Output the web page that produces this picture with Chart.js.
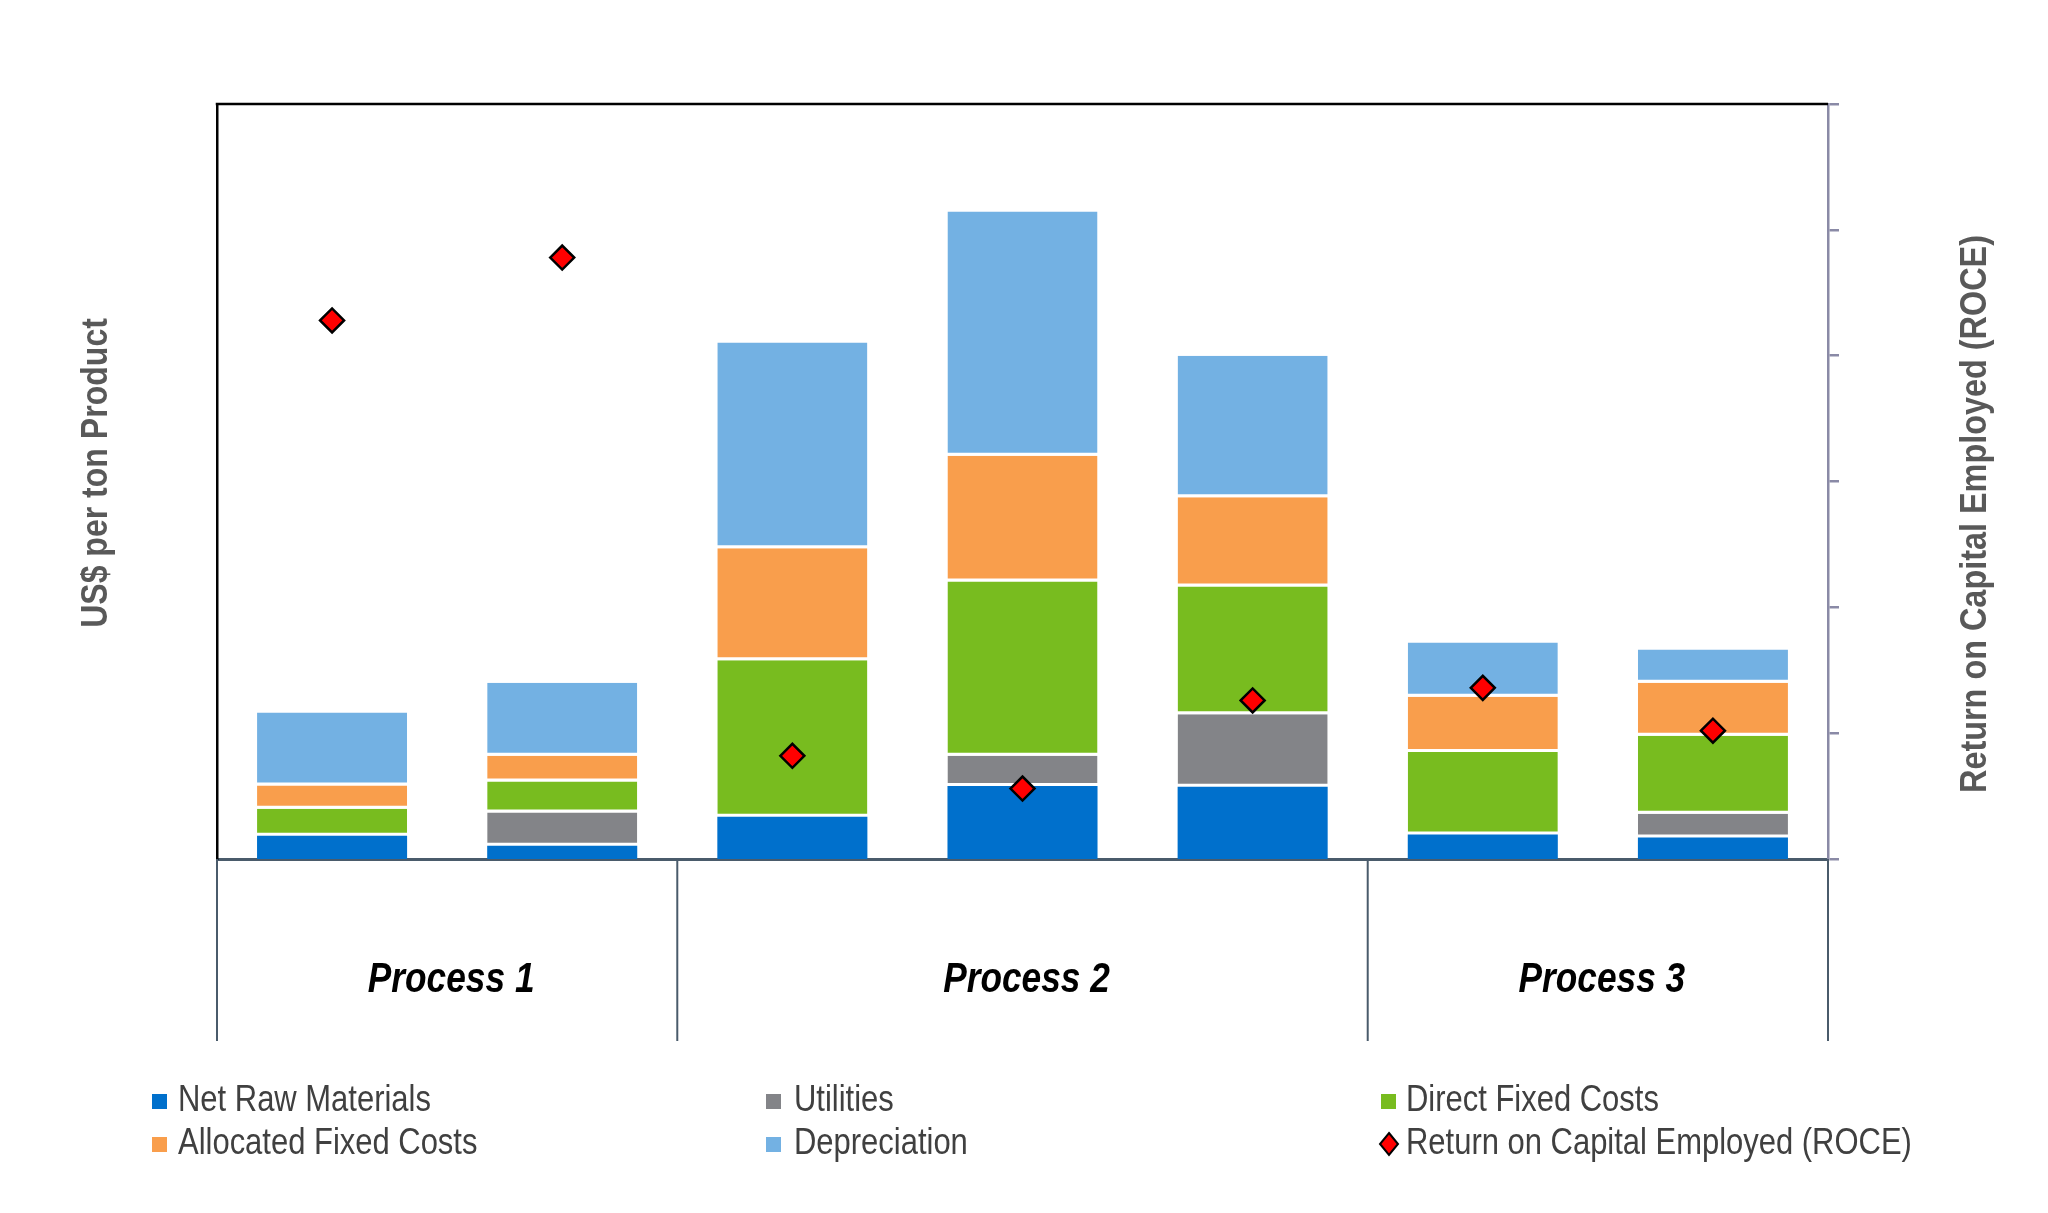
<!DOCTYPE html>
<html><head><meta charset="utf-8">
<script src="https://cdn.jsdelivr.net/npm/chart.js@4.4.1/dist/chart.umd.min.js"></script>
<style>html,body{margin:0;padding:0;background:#fff;}canvas{display:block;}</style>
</head><body>
<canvas id="c" width="2048" height="1213"></canvas>
<script>
const categories = ['Process 1','Process 1','Process 2','Process 2','Process 2','Process 3','Process 3'];
const groupLabels = ['Process 1','Process 2','Process 3'];
const groupSizes = [2, 3, 2];
const netRawMaterials     = [37, 21, 67, 116, 115, 39, 34];
const utilities           = [0, 53, 0, 48, 115, 0, 38];
const directFixedCosts    = [43, 49, 249, 277, 203, 131, 124];
const allocatedFixedCosts = [37, 41, 178, 200, 142, 88, 84];
const depreciation        = [116, 116, 327, 388, 225, 86, 53];
const roce                = [21.4, 23.9, 4.1, 2.8, 6.3, 6.8, 5.1];
const leftTitle = 'US$ per ton Product';
const rightTitle = 'Return on Capital Employed (ROCE)';

const FONT = "'Liberation Sans', Arial, sans-serif";

function barDs(label, data, color, first) {
  return { type: 'bar', label, data, backgroundColor: color, borderColor: '#ffffff',
    borderWidth: { top: 0, bottom: first ? 0 : 3, left: 0, right: 0 }, borderSkipped: false,
    barPercentage: 0.652, categoryPercentage: 1, yAxisID: 'y', order: 1 };
}

function condensedText(ctx, text, x, y, sx, rot) {
  ctx.save(); ctx.translate(x, y); if (rot) ctx.rotate(rot); ctx.scale(sx, 1); ctx.fillText(text, 0, 0); ctx.restore();
}

const decor = {
  id: 'decor',
  afterDraw(chart) {
    const ctx = chart.ctx, ca = chart.chartArea, xs = chart.scales.x;
    ctx.save();
    // top frame line
    ctx.strokeStyle = '#000'; ctx.lineWidth = 2.5;
    ctx.beginPath(); ctx.moveTo(ca.left - 1.25, ca.top); ctx.lineTo(ca.right, ca.top); ctx.stroke();
    // group dividers and labels
    let start = 0;
    const bounds = [xs.getPixelForValue(-0.5)];
    groupSizes.forEach(n => { start += n; bounds.push(xs.getPixelForValue(start - 0.5)); });
    ctx.strokeStyle = '#4a5b6b'; ctx.lineWidth = 2;
    bounds.forEach(b => { ctx.beginPath(); ctx.moveTo(b, ca.bottom); ctx.lineTo(b, 1041); ctx.stroke(); });
    ctx.fillStyle = '#000'; ctx.textAlign = 'center'; ctx.textBaseline = 'alphabetic';
    ctx.font = `italic bold 42px ${FONT}`;
    groupLabels.forEach((g, i) => {
      const cx = (bounds[i] + bounds[i + 1]) / 2 + 4;
      condensedText(ctx, g, cx, 992, 0.84, 0);
    });
    // axis titles
    ctx.font = `bold 36px ${FONT}`; ctx.fillStyle = '#595959'; ctx.textAlign = 'center'; ctx.textBaseline = 'middle';
    condensedText(ctx, leftTitle, 97, 473, 0.89, -Math.PI / 2);
    condensedText(ctx, rightTitle, 1976, 514, 0.9, -Math.PI / 2);
    // legend
    const colMarker = [152, 766, 1381], colText = [178, 794, 1406], rowY = [1101, 1144];
    ctx.font = `36px ${FONT}`; ctx.textAlign = 'left'; ctx.textBaseline = 'middle';
    chart.data.datasets.forEach((ds, i) => {
      const c = i % 3, r = Math.floor(i / 3);
      const mx = colMarker[c], y = rowY[r];
      if (ds.type === 'line') {
        ctx.beginPath();
        ctx.moveTo(mx + 8, y - 11); ctx.lineTo(mx + 17, y); ctx.lineTo(mx + 8, y + 11); ctx.lineTo(mx - 1, y); ctx.closePath();
        ctx.fillStyle = ds.pointBackgroundColor; ctx.fill();
        ctx.strokeStyle = ds.pointBorderColor; ctx.lineWidth = 2; ctx.stroke();
      } else {
        ctx.fillStyle = ds.backgroundColor; ctx.fillRect(mx, y - 7, 15, 15);
      }
      ctx.fillStyle = '#404040';
      condensedText(ctx, ds.label, colText[c], y, 0.86, 0);
    });
    ctx.restore();
  }
};

new Chart(document.getElementById('c'), {
  data: {
    labels: categories,
    datasets: [
      barDs('Net Raw Materials', netRawMaterials, '#0070cc', true),
      barDs('Utilities', utilities, '#838488'),
      barDs('Direct Fixed Costs', directFixedCosts, '#78bc1f'),
      barDs('Allocated Fixed Costs', allocatedFixedCosts, '#f99e4c'),
      barDs('Depreciation', depreciation, '#73b1e3'),
      { type: 'line', label: 'Return on Capital Employed (ROCE)', data: roce, yAxisID: 'y2',
        showLine: false, pointStyle: 'rectRot', pointRadius: 12, pointHoverRadius: 12,
        pointBackgroundColor: '#ff0000', pointBorderColor: '#000000', pointBorderWidth: 2.5, order: 0 }
    ]
  },
  options: {
    responsive: false, animation: false, devicePixelRatio: 1,
    layout: { padding: { top: 104, left: 0, right: 0, bottom: 0 } },
    plugins: { legend: { display: false }, tooltip: { enabled: false } },
    scales: {
      x: { stacked: true, grid: { display: false, drawTicks: false }, ticks: { display: false },
        border: { display: true, color: '#4a5b6b', width: 3 },
        afterFit(s) { s.height = 1213 - 859; } },
      y: { stacked: true, position: 'left', min: 0, max: 1200,
        grid: { display: false, drawTicks: false }, ticks: { display: false },
        border: { display: true, color: '#000', width: 2.5 },
        title: { display: false, text: leftTitle },
        afterFit(s) { s.width = 217; } },
      y2: { position: 'right', min: 0, max: 30,
        ticks: { display: false, stepSize: 5 },
        grid: { drawOnChartArea: false, drawTicks: true, tickLength: 11, color: '#8a8aa6', lineWidth: 2.5 },
        border: { display: true, color: '#8a8aa6', width: 2.5 },
        title: { display: false, text: rightTitle },
        afterFit(s) { s.width = 2048 - 1828; } }
    }
  },
  plugins: [decor]
});
</script>
</body></html>
